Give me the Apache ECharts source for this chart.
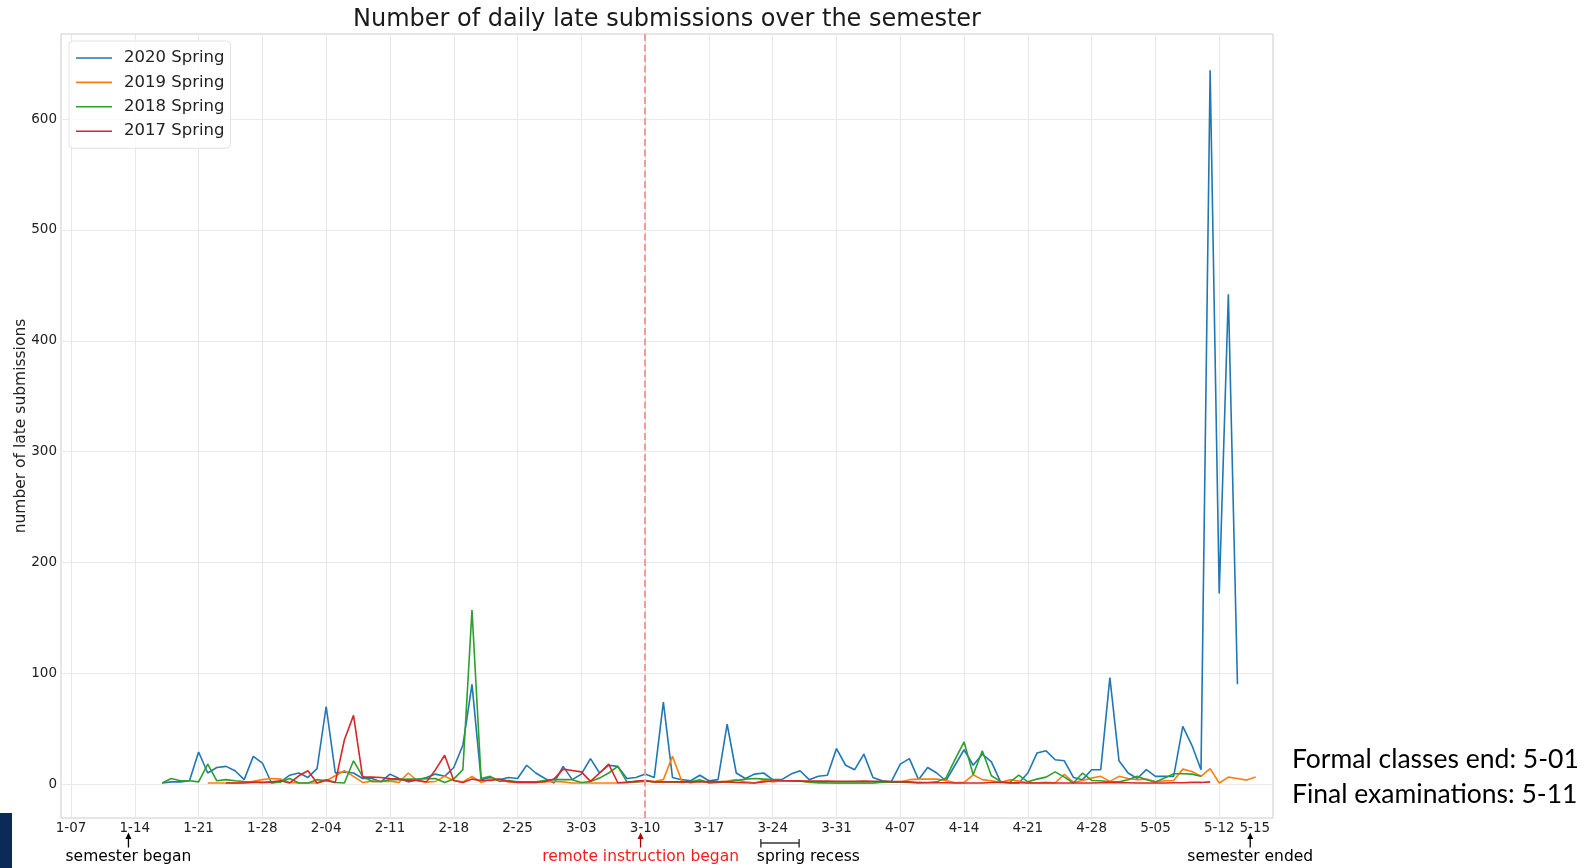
<!DOCTYPE html>
<html>
<head>
<meta charset="utf-8">
<title>Number of daily late submissions over the semester</title>
<script src="https://cdn.jsdelivr.net/npm/echarts@6/dist/echarts.min.js"></script>
<style>
  html, body { margin: 0; padding: 0; background: #fff; }
  #chart { width: 1593px; height: 868px; }
</style>
</head>
<body>
<div id="chart"></div>
<script>
// x is "day of semester", day 0 = Jan 7 (2020 calendar, leap year)
const gridDays = [0, 7, 14, 21, 28, 35, 42, 49, 56, 63, 70, 77, 84, 91, 98, 105, 112, 119, 126];
const labelDays = [0, 7, 14, 21, 28, 35, 42, 49, 56, 63, 70, 77, 84, 91, 98, 105, 112, 119, 126, 129.9];
const tickLabels = ['1-07', '1-14', '1-21', '1-28', '2-04', '2-11', '2-18', '2-25', '3-03', '3-10',
  '3-17', '3-24', '3-31', '4-07', '4-14', '4-21', '4-28', '5-05', '5-12', '5-15'];
const yTicks = [0, 100, 200, 300, 400, 500, 600];

const seriesNames = ['2020 Spring', '2019 Spring', '2018 Spring', '2017 Spring'];
const seriesColors = ['#1f77b4', '#ff7f0e', '#2ca02c', '#d62728'];

// first day of each series
const start2020 = 10;
const spring2020 = [
  1, 2, 2, 3, 29, 10, 15, 16, 12, 4,
  25, 19, 1, 2, 8, 10, 6, 14, 70, 10,
  11, 10, 5, 5, 2, 9, 5, 2, 4, 6,
  9, 7, 15, 35, 90, 4, 6, 4, 6, 5,
  17, 10, 5, 1, 16, 4, 9, 23, 10, 17,
  16, 5, 6, 9, 6, 74, 6, 4, 3, 8,
  3, 4, 54, 10, 5, 9, 10, 4, 4, 9,
  12, 4, 7, 8, 32, 17, 13, 27, 6, 3,
  2, 18, 23, 4, 15, 10, 3, 17, 31, 17,
  27, 20, 2, 1, 1, 10, 28, 30, 22, 21,
  6, 4, 13, 13, 96, 21, 10, 5, 13, 7,
  7, 7, 52, 35, 13, 644, 172, 442, 90
];

const start2019 = 15;
const spring2019 = [
  1, 1, 1, 1, 1.5,
  2.5, 4, 5, 4.5, 1.5, 1, 1, 1, 3, 7.5,
  12, 7, 1.5, 2.7, 2.4, 2.7, 1.5, 10, 3, 1.8,
  2.4, 7, 3.3, 2, 7, 1.5, 4.5, 4, 2, 1.5,
  1.5, 1.5, 2, 2.4, 2, 1, 1, 1, 1, 1,
  1, 1.5, 2, 2.4, 2.4, 4, 25, 3.3, 1, 3.3,
  1.5, 2, 2.7, 4, 2, 1, 3.3, 2, 3.3, 2.7,
  3, 1.5, 1, 1, 1, 1, 1, 1, 1.2, 1.8,
  2, 1.8, 4, 4.5, 4.5, 4.5, 3.3, 1.2, 1.5, 8.4,
  4, 3, 1.5, 4, 2.7, 1.2, 1.2, 1.5, 1.2, 8.7,
  1.5, 3.3, 5.4, 7, 2.4, 7, 5, 4, 4.5, 2,
  3, 3.3, 13.5, 11.4, 7, 14, 1, 6.3, 5, 3.6, 6.3
];

const start2018 = 10;
const spring2018 = [
  1, 5, 3, 3, 2, 18, 3, 4, 3, 2.4,
  2, 1.5, 1.5, 2, 5, 1, 1, 4, 3, 1.5,
  1, 21, 7, 2.4, 2.4, 4, 4, 4.5, 4.5, 4.8,
  5, 1.5, 4.5, 13, 157, 5, 7, 2.4, 3.3, 2,
  2, 2, 3.3, 4, 4, 4, 1.5, 2.4, 5.4, 10,
  16, 2, 2, 3, 2, 2, 2, 1.5, 2, 4,
  1, 1.5, 2, 3.3, 4.5, 5, 4.5, 4, 3, 3,
  2.7, 2, 1.5, 1.2, 1, 1, 1, 1, 1, 1.8,
  1.8, 1.8, 1.5, 1, 1.5, 2, 5.4, 22, 38, 8.4,
  30, 7.5, 2.4, 1.5, 8, 2, 4.5, 6.3, 11, 6.3,
  1, 10, 3.3, 3, 2, 2, 4, 7, 4, 2,
  5.4, 9.3, 9.3, 9, 7
];

const start2017 = 17;
const spring2017 = [
  1, 1, 1,
  1.5, 1.5, 2, 3, 1, 7.5, 12, 1, 4, 1.5,
  40, 62, 6.3, 6.3, 6, 5, 4.5, 3.3, 3.3, 2,
  13, 26, 3.3, 1.5, 4.5, 3.3, 3.3, 4.5, 2.7, 1.5,
  1.5, 1.5, 2.4, 4.5, 13.5, 12.3, 11, 2.4, 10, 18,
  1.2, 1.5, 2.7, 3.3, 2,
  2, 2, 2, 2, 2, 2.2, 2,
  2, 1.5, 1.2, 1, 2, 3,
  3, 3, 2.7, 2.7, 2.7, 2.7, 2.5, 2.5, 2.5, 2.7, 2.5, 2.5, 2.2, 2.2, 2,
  1.5, 1.2, 1.2, 1.2, 1, 1, 1, 1, 1.5, 1.5,
  1.2, 1.2, 1, 1, 1, 1, 1, 1, 1, 1,
  1.2, 1.2, 1.2, 1.2, 1, 1, 1, 1, 1.2, 1.2,
  1.5, 1.5, 2
];

const remoteDay = 63;
const recessDays = [75.7, 79.9];
const notes = [
  { text: 'semester began', day: 6.3, color: '#000', arrow: '#000' },
  { text: 'remote instruction began', day: 62.5, color: '#ff1a1a', arrow: '#b00000' },
  { text: 'semester ended', day: 129.4, color: '#000', arrow: '#000' }
];
const sideNotes = ['Formal classes end: 5-01', 'Final examinations: 5-11'];

function toPoints(start, values) {
  return values.map((v, i) => [start + i, v]);
}

const allData = [
  toPoints(start2020, spring2020),
  toPoints(start2019, spring2019),
  toPoints(start2018, spring2018),
  toPoints(start2017, spring2017)
];

const chart = echarts.init(document.getElementById('chart'));
const font = 'DejaVu Sans';

// plain line as legend key (36 x 14 box, line in the middle)
const lineIcon = 'path://M0,6.2 H36 V7.8 H0 Z M0,0 H0.01 V14 H0 Z';

chart.setOption({
  animation: false,
  backgroundColor: '#fff',
  title: {
    text: 'Number of daily late submissions over the semester',
    left: 667,
    top: 8,
    padding: 0,
    textAlign: 'center',
    textStyle: { fontFamily: font, fontSize: 24, fontWeight: 'normal', color: '#1a1a1a' }
  },
  legend: {
    data: seriesNames.map(n => ({ name: n, icon: lineIcon })),
    orient: 'vertical',
    left: 69,
    top: 41,
    itemWidth: 36,
    itemHeight: 14,
    itemGap: 7.4,
    padding: [8.5, 6, 8.5, 7],
    backgroundColor: 'rgba(255,255,255,0.8)',
    borderColor: '#e3e3e3',
    borderWidth: 1,
    borderRadius: 4,
    textStyle: { fontFamily: font, fontSize: 16.5, color: '#222', padding: [0, 0, 0, 7] }
  },
  grid: {
    left: 61, right: 320, top: 34, bottom: 50,
    show: true, borderColor: '#cccccc', borderWidth: 1,
    outerBoundsMode: 'none'
  },
  xAxis: {
    type: 'value',
    min: -1.1,
    max: 131.9,
    axisLine: { show: false },
    axisTick: { show: false, customValues: gridDays },
    splitLine: { show: true, lineStyle: { color: '#e8e8e8', width: 1 } },
    axisLabel: {
      customValues: labelDays,
      hideOverlap: false,
      margin: 3,
      fontFamily: font, fontSize: 13.5, color: '#222',
      formatter: v => tickLabels[labelDays.indexOf(v)]
    }
  },
  yAxis: {
    type: 'value',
    min: -30.6,
    max: 676.8,
    name: 'number of late submissions',
    nameLocation: 'middle',
    nameGap: 32,
    nameMoveOverlap: false,
    nameTextStyle: { fontFamily: font, fontSize: 15.5, color: '#222' },
    axisLine: { show: false },
    axisTick: { show: false, customValues: yTicks },
    splitLine: { show: true, lineStyle: { color: '#e8e8e8', width: 1 } },
    axisLabel: {
      customValues: yTicks,
      margin: 4,
      fontFamily: font, fontSize: 13.5, color: '#222'
    }
  },
  series: seriesNames.map((name, i) => ({
    name: name,
    type: 'line',
    data: allData[i],
    symbol: 'none',
    color: seriesColors[i],
    lineStyle: { width: 1.6, color: seriesColors[i] },
    markLine: i === 3 ? {
      silent: true,
      symbol: ['none', 'none'],
      label: { show: false },
      lineStyle: { type: [7, 3.5], color: '#f59a9a', width: 2 },
      data: [{ xAxis: remoteDay }]
    } : undefined
  }))
});

// annotations under the axis, placed through the x scale
function xPx(day) {
  return chart.convertToPixel({ xAxisIndex: 0 }, day);
}

const graphics = [];
notes.forEach(n => {
  const x = xPx(n.day);
  graphics.push({
    type: 'line', silent: true,
    shape: { x1: x, y1: 837, x2: x, y2: 847.5 },
    style: { stroke: n.arrow, lineWidth: 1.3 }
  });
  graphics.push({
    type: 'polygon', silent: true,
    shape: { points: [[x, 832.5], [x - 3, 839], [x + 3, 839]] },
    style: { fill: n.arrow }
  });
  graphics.push({
    type: 'text', silent: true, x: x, y: 857,
    style: { text: n.text, fill: n.color, font: '15.5px "DejaVu Sans"', align: 'center', verticalAlign: 'middle' }
  });
});

const r0 = xPx(recessDays[0]);
const r1 = xPx(recessDays[1]);
graphics.push({ type: 'line', silent: true, shape: { x1: r0, y1: 843, x2: r1, y2: 843 }, style: { stroke: '#333', lineWidth: 1.4 } });
graphics.push({ type: 'line', silent: true, shape: { x1: r0, y1: 839, x2: r0, y2: 847.5 }, style: { stroke: '#333', lineWidth: 1.4 } });
graphics.push({ type: 'line', silent: true, shape: { x1: r1, y1: 839, x2: r1, y2: 847.5 }, style: { stroke: '#333', lineWidth: 1.4 } });
graphics.push({
  type: 'text', silent: true, x: r0 - 4, y: 857,
  style: { text: 'spring recess', fill: '#000', font: '15.5px "DejaVu Sans"', align: 'left', verticalAlign: 'middle' }
});

sideNotes.forEach((t, i) => {
  graphics.push({
    type: 'text', silent: true, x: 1292, y: 759 + i * 35.5,
    style: { text: t, fill: '#000', font: '26.5px Lato', align: 'left', verticalAlign: 'middle' }
  });
});

// slide decoration at the bottom-left corner
graphics.push({ type: 'rect', silent: true, shape: { x: 0, y: 813, width: 12, height: 55 }, style: { fill: '#0b2a55' } });

chart.setOption({ graphic: graphics });
</script>
